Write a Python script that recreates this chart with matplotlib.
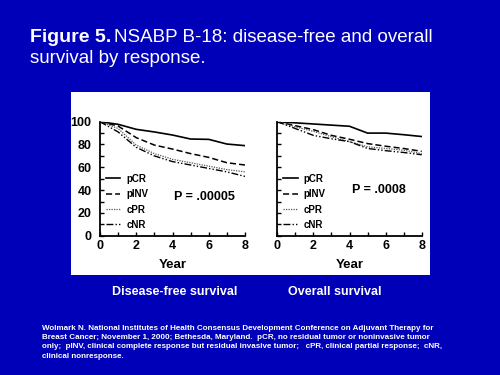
import matplotlib
matplotlib.use('Agg')
import matplotlib.pyplot as plt
from matplotlib.patches import Rectangle
from matplotlib.ticker import MultipleLocator

plt.rcParams['font.family'] = ['Liberation Sans', 'DejaVu Sans']

# data (percent surviving by year)
years = [0, 1, 2, 3, 4, 5, 6, 7, 8]
groups = ['pCR', 'pINV', 'cPR', 'cNR']

dfs = {
    'pCR':  [100, 97.7, 93.3, 91, 88.3, 84.8, 84.5, 80.4, 79],
    'pINV': [100, 96.2, 86, 79.5, 76, 72, 68.7, 64, 62],
    'cPR':  [100, 94, 79.5, 72, 67, 64, 61, 58, 56],
    'cNR':  [100, 91, 77.5, 70, 65, 62, 59, 56, 52],
}
os_ = {
    'pCR':  [100, 99, 98, 97, 96, 90, 90, 88.6, 87],
    'pINV': [100, 96.5, 93, 88, 84.6, 80.8, 78.5, 76.5, 74],
    'cPR':  [100, 95.5, 91.5, 86.8, 82.5, 78, 76.5, 75, 72],
    'cNR':  [100, 94, 88, 85, 82.5, 76.5, 74.6, 73, 71],
}
p_values = ['P = .00005', 'P = .0008']
panel_titles = ['Disease-free survival', 'Overall survival']

styles = {
    'pCR':  dict(color='black', lw=1.2, ls='-'),
    'pINV': dict(color='black', lw=1.1, ls=(0, (4, 2))),
    'cPR':  dict(color='#555555', lw=0.9, ls=(0, (1, 1))),
    'cNR':  dict(color='black', lw=1.0, ls=(0, (5, 1.5, 1, 1.5, 1, 1.5))),
}

bg = '#0000b8'
fig = plt.figure(figsize=(5, 3.75), dpi=100, facecolor=bg)

# white panel behind the two plots
fig.patches.append(Rectangle((71 / 500, 1 - 275 / 375), 359 / 500, 183 / 375,
                             transform=fig.transFigure, facecolor='white',
                             edgecolor='none', zorder=-5))

ax1 = fig.add_axes([100 / 500, 1 - 235.7 / 375, 145 / 500, 114 / 375])
ax2 = fig.add_axes([277.3 / 500, 1 - 235.7 / 375, 144.4 / 500, 114 / 375])

for i, (ax, data) in enumerate([(ax1, dfs), (ax2, os_)]):
    ax.set_facecolor('none')
    for g in groups:
        ax.plot(years, data[g], label=g, **styles[g])
    ax.set_xlim(0, 8)
    ax.set_ylim(0, 100)
    ax.spines['top'].set_visible(False)
    ax.spines['right'].set_visible(False)
    for s in ['left', 'bottom']:
        ax.spines[s].set_linewidth(1.3)
    ax.xaxis.set_major_locator(MultipleLocator(2))
    ax.xaxis.set_minor_locator(MultipleLocator(1))
    ax.yaxis.set_major_locator(MultipleLocator(20))
    ax.yaxis.set_minor_locator(MultipleLocator(10))
    ax.tick_params(which='both', direction='in', length=3, width=1)
    ax.tick_params(axis='x', labelsize=9, pad=3)
    ax.tick_params(axis='y', labelsize=9, pad=6)
    for lab in ax.get_xticklabels() + ax.get_yticklabels():
        lab.set_fontweight('bold')
    ax.set_xlabel('Year', fontsize=9.5, fontweight='bold', labelpad=5)
    leg = ax.legend(loc='lower left', bbox_to_anchor=(0.0, 0.0), frameon=False,
                    fontsize=7, handlelength=1.5, labelspacing=0.55,
                    handletextpad=0.6, borderaxespad=0.2)
    for t in leg.get_texts():
        t.set_fontweight('bold')
    ax.text(0.72 if i == 0 else 0.7, 0.34 if i == 0 else 0.40, p_values[i],
            transform=ax.transAxes, ha='center', va='center',
            fontsize=9, fontweight='bold')

ax2.tick_params(axis='y', which='major', labelleft=False)
ax2.yaxis.set_major_locator(MultipleLocator(10))

# slide title
fig.text(30 / 500, 1 - 42 / 375, 'Figure 5.', color='white', fontsize=14,
         fontweight='bold', va='baseline')
fig.text(114 / 500, 1 - 42 / 375, 'NSABP B-18: disease-free and overall',
         color='white', fontsize=13.5, va='baseline')
fig.text(30 / 500, 1 - 63 / 375, 'survival by response.', color='white',
         fontsize=13.5, va='baseline')

# panel captions
fig.text(175 / 500, 1 - 292 / 375, panel_titles[0], color='white', fontsize=9,
         fontweight='bold', ha='center', va='center')
fig.text(335 / 500, 1 - 292 / 375, panel_titles[1], color='white', fontsize=9,
         fontweight='bold', ha='center', va='center')

note = ('Wolmark N. National Institutes of Health Consensus Development Conference on Adjuvant Therapy for\n'
        'Breast Cancer; November 1, 2000; Bethesda, Maryland.  pCR, no residual tumor or noninvasive tumor\n'
        'only;  pINV, clinical complete response but residual invasive tumor;   cPR, clinical partial response;  cNR,\n'
        'clinical nonresponse.')
fig.text(42 / 500, 1 - 325 / 375, note, color='white', fontsize=5.75,
         fontweight='bold', va='top', linespacing=1.45)

fig.savefig('out.png', dpi=100, facecolor=bg)
